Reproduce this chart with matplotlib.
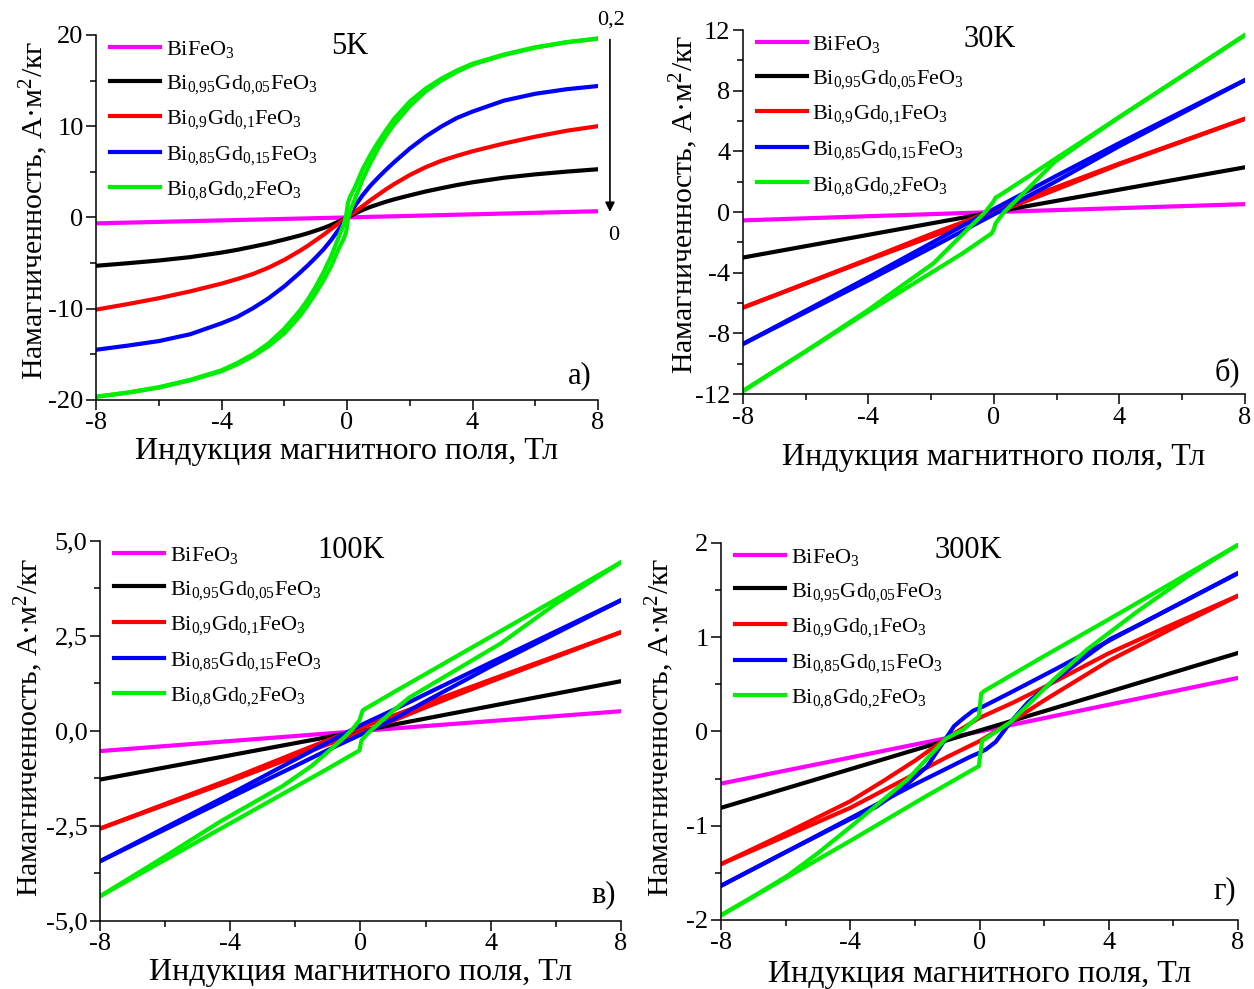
import numpy as np
import matplotlib
matplotlib.use('Agg')
import matplotlib.pyplot as plt
from matplotlib.ticker import MultipleLocator, FuncFormatter

plt.rcParams['font.family'] = ['Liberation Serif', 'DejaVu Serif']
plt.rcParams['mathtext.default'] = 'regular'
plt.rcParams['axes.unicode_minus'] = False

# Подписи образцов и цвета
labels = ['BiFeO$_3$',
          'Bi$_{0{,}95}$Gd$_{0{,}05}$FeO$_3$',
          'Bi$_{0{,}9}$Gd$_{0{,}1}$FeO$_3$',
          'Bi$_{0{,}85}$Gd$_{0{,}15}$FeO$_3$',
          'Bi$_{0{,}8}$Gd$_{0{,}2}$FeO$_3$']
colors = ['#ff00ff', '#000000', '#ff0000', '#0000ff', '#00ee00']

# ---------- 5 K ----------
H5_mag = [-8, 0, 8]
M5_mag = [-0.65, 0.0, 0.68]
H5 = [-8, -7, -6, -5, -4, -3.5, -3, -2.5, -2, -1.5, -1.25, -1, -0.75, -0.5, -0.25, 0,
      0.25, 0.5, 0.75, 1, 1.25, 1.5, 2, 2.5, 3, 3.5, 4, 5, 6, 7, 8]
M5_black = [-5.3, -5.02, -4.72, -4.35, -3.85, -3.55, -3.2, -2.84, -2.42, -1.98, -1.73,
            -1.45, -1.16, -0.82, -0.42, 0.0,
            0.42, 0.82, 1.16, 1.45, 1.73, 1.98, 2.42, 2.84, 3.2, 3.55, 3.85, 4.35, 4.72,
            5.02, 5.28]
M5_red = [-10.1, -9.5, -8.85, -8.1, -7.25, -6.75, -6.2, -5.5, -4.65, -3.65, -3.1, -2.5,
          -1.9, -1.25, -0.62, 0.0,
          0.62, 1.25, 1.9, 2.5, 3.1, 3.65, 4.65, 5.5, 6.2, 6.75, 7.25, 8.1, 8.85, 9.5, 10.0]
M5_blue = [-14.5, -14.05, -13.55, -12.8, -11.6, -10.9, -9.95, -8.85, -7.55, -6.05, -5.25,
           -4.4, -3.5, -2.45, -1.25, 0.0,
           1.25, 2.45, 3.5, 4.4, 5.25, 6.05, 7.55, 8.85, 9.95, 10.9, 11.6, 12.8, 13.55,
           14.05, 14.4]
H5_green_down = [8, 7, 6, 5, 4, 3.5, 3, 2.5, 2, 1.5, 1.25, 1, 0.75, 0.5, 0.25, 0.1, 0.03,
                 -0.03, -0.1, -0.25, -0.5, -0.75, -1, -1.25, -1.5, -2, -2.5, -3, -3.5,
                 -4, -5, -6, -7, -8]
M5_green_down = [19.6, 19.2, 18.65, 17.85, 16.85, 16.1, 15.2, 14.1, 12.7, 10.8, 9.6, 8.3,
                 6.9, 5.3, 3.3, 2.3, 1.6,
                 0.2, -0.7, -2.0, -4.2, -6.0, -7.6, -9.0, -10.2, -12.2, -13.8, -15.0,
                 -15.95, -16.75, -17.8, -18.6, -19.2, -19.65]
H5_green_up = [-8, -7, -6, -5, -4, -3.5, -3, -2.5, -2, -1.5, -1.25, -1, -0.75, -0.5, -0.25,
               -0.1, -0.03, 0.03, 0.1, 0.25, 0.5, 0.75, 1, 1.25, 1.5, 2, 2.5, 3, 3.5, 4,
               5, 6, 7, 8]
M5_green_up = [-19.65, -19.2, -18.65, -17.85, -16.85, -16.1, -15.2, -14.1, -12.7, -10.8,
               -9.6, -8.3, -6.9, -5.3, -3.3, -2.3, -1.6,
               -0.2, 0.7, 2.0, 4.2, 6.0, 7.6, 9.0, 10.2, 12.2, 13.8, 15.0, 15.95, 16.75,
               17.8, 18.6, 19.2, 19.6]

# ---------- 30 K ----------
H30_mag = [-8, 0, 8]
M30_mag = [-0.55, 0.0, 0.52]
H30_black = [-8, -4, 0, 4, 8]
M30_black = [-3.0, -1.5, 0.0, 1.48, 2.95]
H30_down = [8, 4, 2, 1, 0, -1, -2, -4, -8]
H30_up = [-8, -4, -2, -1, 0, 1, 2, 4, 8]
M30_red_down = [6.15, 3.2, 1.65, 0.9, 0.12, -0.68, -1.45, -3.1, -6.3]
M30_red_up = [-6.3, -3.15, -1.62, -0.86, -0.1, 0.7, 1.5, 3.15, 6.15]
M30_blue_down = [8.7, 4.55, 2.4, 1.3, 0.2, -0.9, -2.05, -4.3, -8.7]
M30_blue_up = [-8.7, -4.5, -2.35, -1.25, -0.15, 0.95, 2.05, 4.35, 8.7]
H30_green_down = [8, 4, 2, 1, 0.19, 0.05, -0.02, -0.3, -0.87, -1.93, -3.0, -4, -6, -8]
M30_green_down = [11.67, 6.27, 3.57, 2.21, 1.12, 0.95, 0.68, -0.05, -1.19, -3.38, -4.95,
                  -6.45, -9.18, -11.8]
H30_green_up = [-8, -6, -4, -2, -1, -0.07, 0.0, 0.05, 0.3, 0.87, 1.93, 3.0, 4, 6, 8]
M30_green_up = [-11.8, -9.18, -6.55, -4.0, -2.72, -1.4, -1.1, -0.75, -0.05, 1.1, 3.3,
                4.85, 6.27, 8.97, 11.67]

# ---------- 100 K ----------
H100_mag = [-8, 0, 8]
M100_mag = [-0.53, 0.0, 0.52]
M100_black = [-1.28, 0.0, 1.31]
H100_down = [8, 4, 2, 1, 0, -1, -2, -4, -8]
H100_up = [-8, -4, -2, -1, 0, 1, 2, 4, 8]
M100_red_down = [2.6, 1.35, 0.72, 0.4, 0.08, -0.24, -0.58, -1.27, -2.57]
M100_red_up = [-2.57, -1.32, -0.67, -0.35, -0.05, 0.27, 0.62, 1.3, 2.6]
M100_blue_down = [3.44, 1.8, 0.97, 0.55, 0.15, -0.3, -0.75, -1.66, -3.43]
M100_blue_up = [-3.43, -1.75, -0.92, -0.5, -0.1, 0.3, 0.78, 1.7, 3.44]
H100_green_down = [8, 4, 2, 1, 0.07, 0.02, -0.03, -0.24, -0.5, -1.0, -1.5, -2.39,
                   -4.3, -6, -8]
M100_green_down = [4.44, 2.48, 1.50, 1.01, 0.545, 0.42, 0.28, 0.05, -0.17, -0.55,
                   -0.92, -1.45, -2.38, -3.3, -4.35]
H100_green_up = [-8, -4, -2, -1, -0.03, 0.0, 0.03, 0.24, 0.5, 1.0, 1.5, 2.33, 4.3,
                 6, 8]
M100_green_up = [-4.35, -2.43, -1.47, -0.99, -0.51, -0.38, -0.245, -0.05, 0.15,
                 0.53, 0.88, 1.3, 2.3, 3.35, 4.44]

# ---------- 300 K ----------
H300_mag = [-8, 0, 8]
M300_mag = [-0.553, 0.0, 0.568]
H300_black = [-8, -4, 0, 4, 8]
M300_black = [-0.81, -0.40, 0.01, 0.42, 0.833]
H300_red_down = [8, 6, 4, 2, 1, 0, -0.5, -1.05, -2, -3, -4, -6, -8]
M300_red_down = [1.44, 1.14, 0.83, 0.47, 0.30, 0.145, 0.04, -0.078, -0.31, -0.53, -0.74,
                 -1.08, -1.407]
H300_red_up = [-8, -6, -4, -2, -1, 0, 0.5, 0.96, 2, 3, 4, 6, 8]
M300_red_up = [-1.407, -1.11, -0.81, -0.45, -0.27, -0.102, 0.0, 0.099, 0.33, 0.54, 0.75,
               1.10, 1.44]
H300_blue_down = [8, 4.87, 2.29, 1.0, 0.13, -0.2, -0.5, -0.79, -1.05, -1.62, -2.44,
                  -3.2, -4, -6, -8]
M300_blue_down = [1.68, 1.12, 0.65, 0.42, 0.268, 0.22, 0.14, 0.056, -0.078, -0.37,
                  -0.62, -0.8, -0.93, -1.28, -1.637]
H300_blue_up = [-8, -6, -4, -2, -1, -0.3, 0, 0.2, 0.5, 0.96, 1.5, 2.29, 3.32, 4.04,
                4.87, 8]
M300_blue_up = [-1.637, -1.28, -0.92, -0.56, -0.39, -0.27, -0.225, -0.19, -0.11, 0.10,
                0.31, 0.54, 0.80, 0.98, 1.12, 1.68]
H300_green_down = [8, 4, 2, 0.13, 0.05, -0.02, -0.2, -0.5, -1.05, -2.23, -3.88, -5.0,
                   -5.94, -7, -8]
M300_green_down = [1.98, 1.19, 0.80, 0.427, 0.40, 0.162, 0.11, 0.02, -0.078, -0.51,
                   -0.98, -1.29, -1.53, -1.75, -1.95]
H300_green_up = [-8, -4, -1.72, -0.02, 0.0, 0.08, 0.3, 0.96, 2.29, 3.32, 4.87, 6.41, 7,
                 8]
M300_green_up = [-1.95, -1.16, -0.70, -0.367, -0.30, -0.10, -0.05, 0.099, 0.55, 0.868,
                 1.27, 1.64, 1.77, 1.98]

FS_TICK = 19
FS_XLABEL = 23
FS_YLABEL = 21.5
FS_LEG = 16
FS_TEXT = 22
LW = 3.0

fig = plt.figure(figsize=(12.54, 9.89), dpi=100)

ax_a = fig.add_axes([0.0766, 0.5956, 0.4003, 0.3691])
ax_b = fig.add_axes([0.5925, 0.6016, 0.4003, 0.3680])
ax_c = fig.add_axes([0.0797, 0.0688, 0.4155, 0.3842])
ax_d = fig.add_axes([0.5750, 0.0698, 0.4123, 0.3812])


def hyphen(v, pos):
    if abs(v - round(v)) < 1e-9:
        return str(int(round(v)))
    return ('%g' % v)


def comma1(v, pos):
    return ('%.1f' % v).replace('.', ',')


def style(ax, ylim, ymaj, ymin, fmt, ylx, yly, xly):
    ax.set_xlim(-8, 8)
    ax.set_ylim(*ylim)
    ax.xaxis.set_major_locator(MultipleLocator(4))
    ax.xaxis.set_minor_locator(MultipleLocator(2))
    ax.yaxis.set_major_locator(MultipleLocator(ymaj))
    ax.yaxis.set_minor_locator(MultipleLocator(ymin))
    ax.xaxis.set_major_formatter(FuncFormatter(hyphen))
    ax.yaxis.set_major_formatter(FuncFormatter(fmt))
    for s in ['top', 'right']:
        ax.spines[s].set_visible(False)
    for s in ['left', 'bottom']:
        ax.spines[s].set_linewidth(1.1)
    ax.tick_params(which='major', direction='out', length=7, width=1.1,
                   labelsize=FS_TICK, pad=2)
    ax.tick_params(which='minor', direction='out', length=4, width=1.1)
    ax.set_xlabel('Индукция магнитного поля, Тл', fontsize=FS_XLABEL)
    ax.set_ylabel('Намагниченность, А·м$^2$/кг', fontsize=FS_YLABEL)
    ax.yaxis.set_label_coords(ylx, yly)
    ax.xaxis.set_label_coords(0.5, xly)


def legend(ax):
    ax.legend(loc='upper left', bbox_to_anchor=(0.01, 1.013), frameon=False,
              fontsize=FS_LEG, handlelength=2.25, handletextpad=0.25,
              labelspacing=0.57, borderaxespad=0.0)


# а) 5 K
ax = ax_a
ax.plot(H5_mag, M5_mag, color=colors[0], lw=LW, label=labels[0])
ax.plot(H5, M5_black, color=colors[1], lw=LW, label=labels[1])
ax.plot(H5, M5_red, color=colors[2], lw=LW, label=labels[2])
ax.plot(H5, M5_blue, color=colors[3], lw=LW, label=labels[3])
ax.plot(H5_green_down, M5_green_down, color=colors[4], lw=LW, label=labels[4])
ax.plot(H5_green_up, M5_green_up, color=colors[4], lw=LW)
style(ax, (-20, 20), 10, 5, hyphen, -0.092, 0.52, -0.101)
legend(ax)
ax.text(0.506, 0.968, '5K', transform=ax.transAxes, fontsize=FS_TEXT,
        ha='center', va='center')
ax.text(0.964, 0.066, 'а)', transform=ax.transAxes, fontsize=FS_TEXT,
        ha='center', va='center')
ax.annotate('', xy=(8.38, 0.3), xytext=(8.38, 19.8),
            arrowprops=dict(arrowstyle='-|>', color='black', lw=1.2,
                            mutation_scale=14),
            annotation_clip=False)
ax.text(8.4, 21.6, '0,2', fontsize=16, ha='center', va='center', clip_on=False)
ax.text(8.5, -2.0, '0', fontsize=16, ha='center', va='center', clip_on=False)

# б) 30 K
ax = ax_b
ax.plot(H30_mag, M30_mag, color=colors[0], lw=LW, label=labels[0])
ax.plot(H30_black, M30_black, color=colors[1], lw=LW, label=labels[1])
ax.plot(H30_down, M30_red_down, color=colors[2], lw=LW, label=labels[2])
ax.plot(H30_up, M30_red_up, color=colors[2], lw=LW)
ax.plot(H30_down, M30_blue_down, color=colors[3], lw=LW, label=labels[3])
ax.plot(H30_up, M30_blue_up, color=colors[3], lw=LW)
ax.plot(H30_green_down, M30_green_down, color=colors[4], lw=LW, label=labels[4])
ax.plot(H30_green_up, M30_green_up, color=colors[4], lw=LW)
style(ax, (-12, 12), 4, 2, hyphen, -0.086, 0.52, -0.135)
legend(ax)
ax.text(0.492, 0.973, '30K', transform=ax.transAxes, fontsize=FS_TEXT,
        ha='center', va='center')
ax.text(0.966, 0.06, 'б)', transform=ax.transAxes, fontsize=FS_TEXT,
        ha='center', va='center')

# в) 100 K
ax = ax_c
ax.plot(H100_mag, M100_mag, color=colors[0], lw=LW, label=labels[0])
ax.plot(H100_mag, M100_black, color=colors[1], lw=LW, label=labels[1])
ax.plot(H100_down, M100_red_down, color=colors[2], lw=LW, label=labels[2])
ax.plot(H100_up, M100_red_up, color=colors[2], lw=LW)
ax.plot(H100_down, M100_blue_down, color=colors[3], lw=LW, label=labels[3])
ax.plot(H100_up, M100_blue_up, color=colors[3], lw=LW)
ax.plot(H100_green_down, M100_green_down, color=colors[4], lw=LW, label=labels[4])
ax.plot(H100_green_up, M100_green_up, color=colors[4], lw=LW)
style(ax, (-5, 5), 2.5, 1.25, comma1, -0.106, 0.51, -0.097)
legend(ax)
ax.text(0.482, 0.976, '100K', transform=ax.transAxes, fontsize=FS_TEXT,
        ha='center', va='center')
ax.text(0.967, 0.068, 'в)', transform=ax.transAxes, fontsize=FS_TEXT,
        ha='center', va='center')

# г) 300 K
ax = ax_d
ax.plot(H300_mag, M300_mag, color=colors[0], lw=LW, label=labels[0])
ax.plot(H300_black, M300_black, color=colors[1], lw=LW, label=labels[1])
ax.plot(H300_red_down, M300_red_down, color=colors[2], lw=LW, label=labels[2])
ax.plot(H300_red_up, M300_red_up, color=colors[2], lw=LW)
ax.plot(H300_blue_down, M300_blue_down, color=colors[3], lw=LW, label=labels[3])
ax.plot(H300_blue_up, M300_blue_up, color=colors[3], lw=LW)
ax.plot(H300_green_down, M300_green_down, color=colors[4], lw=LW, label=labels[4])
ax.plot(H300_green_up, M300_green_up, color=colors[4], lw=LW)
style(ax, (-2, 2), 1, 0.5, hyphen, -0.087, 0.51, -0.106)
legend(ax)
ax.text(0.478, 0.979, '300K', transform=ax.transAxes, fontsize=FS_TEXT,
        ha='center', va='center')
ax.text(0.975, 0.077, 'г)', transform=ax.transAxes, fontsize=FS_TEXT,
        ha='center', va='center')

fig.savefig('out.png', dpi=100)
